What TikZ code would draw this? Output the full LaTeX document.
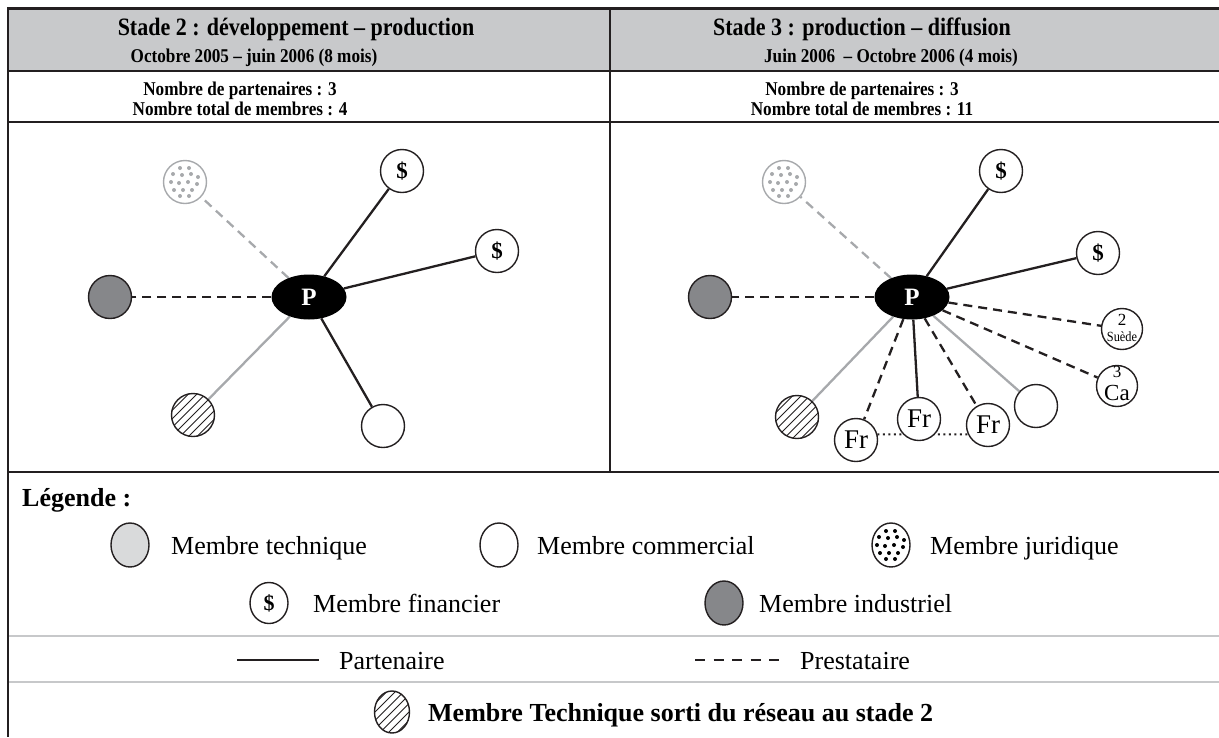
\documentclass[tikz,border=0pt]{standalone}
\usepackage{fontspec}
\setmainfont{Liberation Serif}
\newfontfamily\condfont{Liberation Serif}[FakeStretch=0.88]
\usetikzlibrary{shapes.geometric}
\pgfdeclarelayer{bg}
\pgfsetlayers{bg,main}
\definecolor{tline}{HTML}{231F20}
\definecolor{hdr}{HTML}{C8C9CB}
\definecolor{lgray}{HTML}{A7A9AC}
\definecolor{techfill}{HTML}{D9DADB}
\definecolor{indfill}{HTML}{86878A}
\definecolor{sepgray}{HTML}{C7C8CA}
\newcommand{\fsize}[1]{\fontsize{#1}{#1}\selectfont}
\tikzset{
  grid/.style={draw=tline, line width=2.2pt},
  sepline/.style={draw=sepgray, line width=2pt},
  mem/.style={circle, draw=tline, line width=1.4pt, fill=white, minimum size=43pt, inner sep=0pt},
  smallmem/.style={mem, minimum size=41pt},
  pnode/.style={ellipse, fill=black, minimum width=75pt, minimum height=45pt, inner sep=0pt, text=white, font=\fsize{25}\bfseries},
  fin/.style={mem, font=\fsize{23}\bfseries},
  frn/.style={mem, font=\fsize{27}},
  indm/.style={mem, fill=indfill},
  partner/.style={draw=tline, line width=2.3pt},
  presta/.style={draw=tline, line width=2.3pt, dash pattern=on 9pt off 6pt},
  gpartner/.style={draw=lgray, line width=2.3pt},
  gpresta/.style={draw=lgray, line width=2.3pt, dash pattern=on 9pt off 6pt},
  linkdots/.style={draw=tline, line width=2pt, dash pattern=on 2pt off 3.5pt},
  inlab/.style={inner sep=0pt},
  hatch/.style={path picture={\foreach \k in {-6,...,6}{\draw[line width=0.9pt, tline] ([shift={(\k*8.5-30,30)}]path picture bounding box.center) -- ++(60,-60);}}},
  dotsin/.style={path picture={\foreach \a/\b in {-5/-14,4/-14,-12/-8,-3/-7,6/-8,13/-5,-14/0,-6/1,3/0,12/2,-11/8,-2/8,7/8,-5/14,4/14}{\fill[#1] ([shift={(\a,\b)}]path picture bounding box.center) circle (2);}}},
  jurg/.style={mem, draw=lgray, dotsin=lgray},
  lell/.style={ellipse, draw=tline, line width=1.4pt, fill=white, minimum width=38pt, minimum height=44pt, inner sep=0pt},
  ltext/.style={anchor=base west, font=\fsize{26}, inner sep=0pt},
  hdrtitle/.style={anchor=base, font=\condfont\fsize{25}\bfseries, inner sep=0pt},
  hdrsub/.style={anchor=base, font=\condfont\fsize{19.5}\bfseries, inner sep=0pt},
  countt/.style={anchor=base, font=\condfont\fsize{19.5}\bfseries, inner sep=0pt},
}
\begin{document}
\begin{tikzpicture}[x=1pt,y=-1pt]
\useasboundingbox (0,0) rectangle (1219,737);
% table
\fill[hdr] (8,8.5) rectangle (1219,71);
\draw[grid] (8,8.5) -- (1219,8.5);
\draw[grid] (8,71) -- (1219,71);
\draw[grid] (8,122) -- (1219,122);
\draw[grid] (8,472) -- (1219,472);
\draw[grid] (610,8.5) -- (610,472);
\draw[grid] (8,7.4) -- (8,737);
\draw[sepline] (9,636) -- (1219,636);
\draw[sepline] (9,682) -- (1219,682);
% headers
\node[hdrtitle] (t2) at (296,35) {Stade 2 : développement – production};
\node[hdrsub] (s2) at (254,62) {Octobre 2005 – juin 2006 (8 mois)};
\node[hdrtitle] (t3) at (862,35) {Stade 3 : production – diffusion};
\node[hdrsub] (s3) at (891,62) {Juin 2006\ \ – Octobre 2006 (4 mois)};
\node[countt] (n2a) at (240,95) {Nombre de partenaires : 3};
\node[countt] (n2b) at (240,115) {Nombre total de membres : 4};
\node[countt] (n3a) at (862,95) {Nombre de partenaires : 3};
\node[countt] (n3b) at (862,115) {Nombre total de membres : 11};
% stage 2 graph
\node[pnode] (P2) at (309,297) {P};
\node[jurg] (jur2) at (185,182) {};
\node[fin] (fin2a) at (402,171) {\$};
\node[fin] (fin2b) at (497,251) {\$};
\node[indm] (ind2) at (110,297) {};
\node[mem, hatch] (hat2) at (193,415) {};
\node[mem] (com2) at (383,426) {};
% stage 3 graph
\node[pnode] (P3) at (912,297) {P};
\node[jurg] (jur3) at (784,182) {};
\node[fin] (fin3a) at (1001,171) {\$};
\node[fin] (fin3b) at (1098,253) {\$};
\node[indm] (ind3) at (710,297) {};
\node[mem, hatch] (hat3) at (797,417) {};
\node[frn] (frl) at (856,440) {Fr};
\node[frn] (frm) at (919,419) {Fr};
\node[frn] (frr) at (988,425) {Fr};
\node[mem] (com3) at (1036,406) {};
\node[smallmem] (sue) at (1122,329) {};
\node[inlab, font=\fsize{17}] (sue2) at (1122,320) {2};
\node[inlab, font=\condfont\fsize{14}] (suet) at (1122,337) {Suède};
\node[smallmem] (ca) at (1117,386) {};
\node[inlab, font=\fsize{17}] (ca3) at (1117,372) {3};
\node[inlab, font=\fsize{23}] (caca) at (1117,393) {Ca};
\begin{pgfonlayer}{bg}
\draw[gpresta] (P2) -- (jur2);
\draw[presta] (P2) -- (ind2);
\draw[partner] (P2) -- (fin2a);
\draw[partner] (P2) -- (fin2b);
\draw[gpartner] (P2) -- (hat2);
\draw[partner] (P2) -- (com2);
\draw[gpresta] (P3) -- (jur3);
\draw[presta] (P3) -- (ind3);
\draw[partner] (P3) -- (fin3a);
\draw[partner] (P3) -- (fin3b);
\draw[presta] (P3) -- (sue);
\draw[presta] (P3) -- (ca);
\draw[gpartner] (P3) -- (com3);
\draw[presta] (P3) -- (frr);
\draw[partner] (P3) -- (frm);
\draw[presta] (P3) -- (frl);
\draw[gpartner] (P3) -- (hat3);
\draw[linkdots] (frl.15) -- (frr.205);
\end{pgfonlayer}
% legend
\node[font=\fsize{26}\bfseries, anchor=base west, inner sep=0pt] (leg) at (22,506) {Légende :};
\node[lell, fill=techfill] (lt) at (130,545) {};
\node[ltext] (ltt) at (171,554) {Membre technique};
\node[lell] (lc) at (499,545) {};
\node[ltext] (lct) at (537,554) {Membre commercial};
\node[lell, dotsin=black] (lj) at (891,545) {};
\node[ltext] (ljt) at (930,554) {Membre juridique};
\node[lell, font=\fsize{22}\bfseries, minimum width=38pt, minimum height=41pt] (lf) at (269,603) {\$};
\node[ltext] (lft) at (313,612) {Membre financier};
\node[lell, fill=indfill] (li) at (724,603) {};
\node[ltext] (lit) at (759,612) {Membre industriel};
\coordinate (pa1) at (237,660);
\coordinate (pa2) at (319,660);
\draw[partner] (pa1) -- (pa2);
\node[ltext] (lpt) at (339,669) {Partenaire};
\coordinate (pr1) at (695,660);
\coordinate (pr2) at (779,660);
\draw[draw=tline, line width=2.3pt, dash pattern=on 10pt off 8.5pt] (pr1) -- (pr2);
\node[ltext] (lprt) at (800,669) {Prestataire};
\node[lell, hatch, minimum width=35pt, minimum height=42pt] (lh) at (392,712) {};
\node[ltext, font=\fsize{26}\bfseries] (lht) at (428,721) {Membre Technique sorti du réseau au stade 2};
\end{tikzpicture}
\end{document}
